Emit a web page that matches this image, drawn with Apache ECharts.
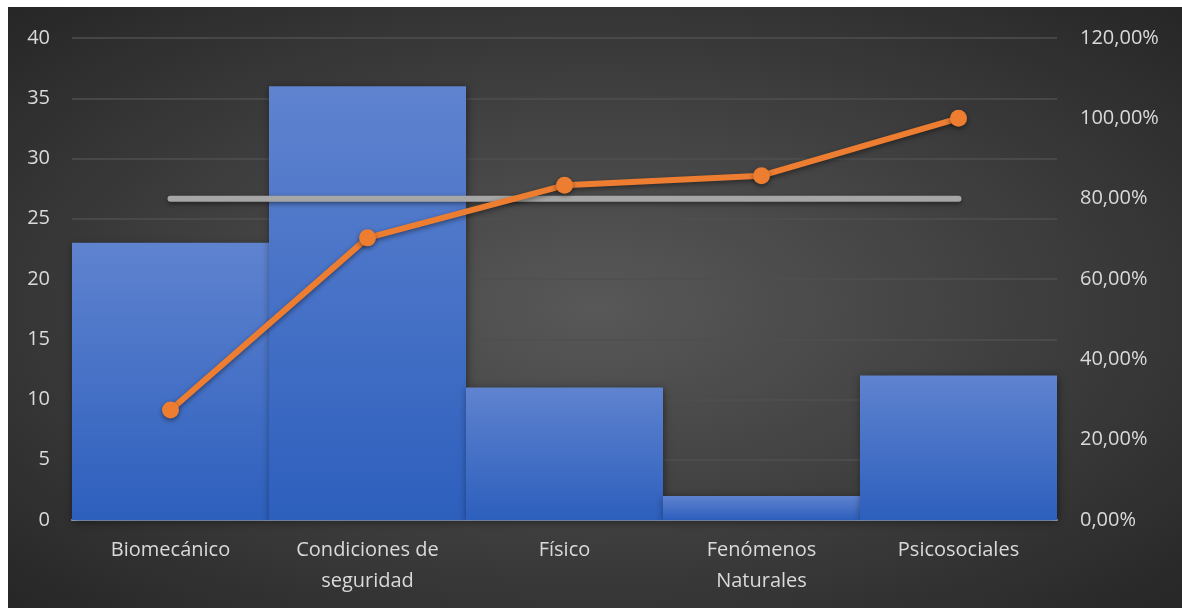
<!DOCTYPE html>
<html>
<head>
<meta charset="utf-8">
<script src="https://cdn.jsdelivr.net/npm/echarts@6/dist/echarts.min.js"></script>
<style>
html,body{margin:0;padding:0;background:#fff;}
#wrap{position:absolute;left:8px;top:7px;width:1174px;height:601px;
background:radial-gradient(ellipse at 50% 50%, #585858 0%, #424242 45%, #262626 100%);}
#c{position:absolute;left:0;top:0;width:1174px;height:601px;}
</style>
</head>
<body>
<div id="wrap"><div id="c"></div></div>
<script>
const categories = ['Biomecánico', 'Condiciones de\nseguridad', 'Físico', 'Fenómenos\nNaturales', 'Psicosociales'];
const counts = [23, 36, 11, 2, 12];
const cumulative = [0.2738, 0.7024, 0.8333, 0.8571, 1.0];
const threshold = [0.8, 0.8, 0.8, 0.8, 0.8];
const leftTicks = {min: 0, max: 40, interval: 5};
const rightTicks = {min: 0, max: 1.2, interval: 0.2};

const chart = echarts.init(document.getElementById('c'));
const font = 'Open Sans, Noto Sans, sans-serif';
chart.setOption({
  backgroundColor: 'transparent',
  animation: false,
  grid: {left: 64, right: 125, top: 31, bottom: 88},
  xAxis: {
    type: 'category', data: categories,
    axisLine: {show: true, lineStyle: {color: '#9fb3dc', width: 2}},
    axisTick: {show: false},
    axisLabel: {color: '#dadada', fontSize: 20, fontFamily: font, margin: 15, lineHeight: 31}
  },
  yAxis: [{
    type: 'value', min: leftTicks.min, max: leftTicks.max, interval: leftTicks.interval,
    axisLine: {show: false}, axisTick: {show: false},
    axisLabel: {color: '#dadada', fontSize: 20, fontFamily: font, margin: 22},
    splitLine: {lineStyle: {color: '#4f4f4f', width: 1.5}}
  }, {
    type: 'value', min: rightTicks.min, max: rightTicks.max, interval: rightTicks.interval,
    axisLine: {show: false}, axisTick: {show: false},
    axisLabel: {color: '#dadada', fontSize: 20, fontFamily: font, margin: 23,
      formatter: v => (v * 100).toFixed(2).replace('.', ',') + '%'},
    splitLine: {show: false}
  }],
  series: [{
    type: 'bar', data: counts, barCategoryGap: '0%',
    itemStyle: {
      color: new echarts.graphic.LinearGradient(0, 0, 0, 1, [
        {offset: 0, color: '#5f83cf'}, {offset: 1, color: '#2d5fbd'}]),
      shadowColor: 'rgba(0,0,0,0.45)', shadowBlur: 8, shadowOffsetX: 1, shadowOffsetY: 2
    },
    z: 2
  }, {
    type: 'line', yAxisIndex: 1, data: threshold, symbol: 'none',
    lineStyle: {color: '#a6a6a6', width: 6, cap: 'round',
      shadowColor: 'rgba(0,0,0,0.45)', shadowBlur: 5, shadowOffsetY: 2},
    z: 3
  }, {
    type: 'line', yAxisIndex: 1, data: cumulative, symbol: 'circle', symbolSize: 17,
    lineStyle: {color: '#ed7d31', width: 6, cap: 'round',
      shadowColor: 'rgba(0,0,0,0.45)', shadowBlur: 5, shadowOffsetY: 2},
    itemStyle: {color: '#ed7d31', shadowColor: 'rgba(0,0,0,0.45)', shadowBlur: 5, shadowOffsetY: 2},
    z: 4
  }]
});
</script>
</body>
</html>
